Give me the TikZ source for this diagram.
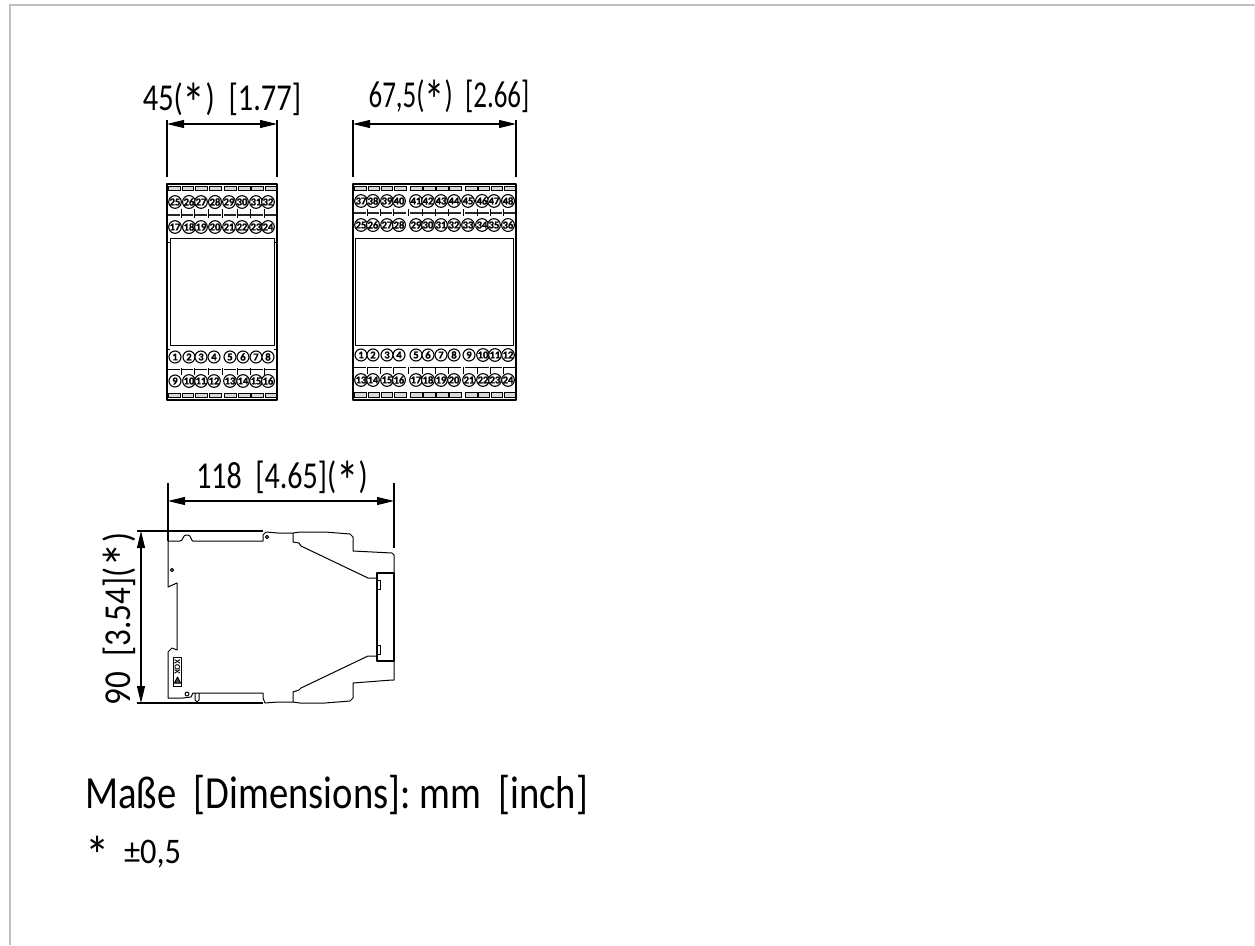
\documentclass[tikz,border=0pt]{standalone}
\usepackage{fontspec}
\setmainfont{Carlito}
\usetikzlibrary{arrows.meta}
\newcommand{\dimstar}{\raisebox{-0.33em}{\scalebox{1.5}{*}}}
\tikzset{
 x=1pt,y=-1pt,
 frameline/.style={draw=black!25,line width=2pt},
 outline/.style={draw=black,line width=1pt,line join=round},
 thin outline/.style={draw=black,line width=0.8pt},
 bar/.style={draw=black,fill=black!15,line width=0.7pt},
 dimline/.style={draw=black,line width=1.1pt},
 dimarrow/.style={dimline,{Triangle[length=17pt,width=8pt]}-{Triangle[length=17pt,width=8pt]}},
 dimtext/.style={inner sep=0pt,font=\fontsize{38}{40}\selectfont},
 term/.style={circle,draw=black,line width=1.1pt,inner sep=0pt,minimum size=12pt,fill=white,font=\fontsize{10.5}{11}\selectfont\bfseries\addfontfeature{FakeBold=1.5}}
}
\begin{document}
\begin{tikzpicture}
\useasboundingbox (0,0) rectangle (1255,945);
\draw[frameline] (10,945) -- (10,5) -- (1255,5);
\draw[draw=black!6,line width=1pt] (1254.5,5) -- (1254.5,945);

% ---------- 45 mm module
\draw[outline,line width=1.3pt] (167,184) rectangle (277,400);
\draw[outline] (170,238) rectangle (274,345);
\draw[outline] (167,242) -- (170,242) (274,242) -- (277,242) (167,349) -- (170,349) (274,349) -- (277,349);
\foreach \a/\b in {168/180,182/193,195/207,209/221,224/236,238/250,251/263,265/276}{
 \draw[bar] (\a,186) rectangle (\b,190);
 \draw[line width=1.6pt,black!85] (\a,215) -- (\b,215);
 \draw[thin outline] (\a,369) -- (\b,369);
 \draw[bar] (\a,393) rectangle (\b,397.5);
}
\foreach \x in {167,181,194,208,222,237,250,264,277}{
 \draw[thin outline] (\x,209) -- (\x,218) (\x,368) -- (\x,375);
}
\foreach \x/\t [count=\i] in {175/25,189/26,201/27,215/28,229/29,242/30,256/31,268/32}
 \node[term] (a\i) at (\x,202) {\t};
\foreach \x/\t [count=\i] in {175/17,189/18,201/19,215/20,229/21,242/22,256/23,268/24}
 \node[term] (b\i) at (\x,227) {\t};
\foreach \x/\t [count=\i] in {175/1,189/2,201/3,214/4,230/5,243/6,256/7,268/8}
 \node[term] (c\i) at (\x,357) {\t};
\foreach \x/\t [count=\i] in {175/9,189/10,201/11,214/12,230/13,243/14,256/15,268/16}
 \node[term] (d\i) at (\x,381) {\t};

% ---------- 67.5 mm module
\draw[outline,line width=1.3pt] (353,184) rectangle (516,400);
\draw[outline] (355,238) rectangle (513,345);
\foreach \a/\b in {354/366,368/379,381/392,394/406,410/422,423/435,436/448,449/461,465/477,478/489,491/502,504/515}{
 \draw[bar] (\a,186) rectangle (\b,190);
 \draw[line width=1.6pt,black!85] (\a,213) -- (\b,213);
 \draw[thin outline] (\a,367) -- (\b,367);
 \draw[bar] (\a,392) rectangle (\b,397.5);
}
\foreach \x in {353,367,380,393,408,422,435,448,463,477,490,503,516}{
 \draw[thin outline] (\x,209) -- (\x,216) (\x,367) -- (\x,374);
}
\foreach \x/\t [count=\i] in {361/37,373/38,387/39,399/40,416/41,428/42,441/43,454/44,468/45,482/46,494/47,508/48}
 \node[term] (e\i) at (\x,201) {\t};
\foreach \x/\t [count=\i] in {361/25,373/26,387/27,399/28,416/29,428/30,441/31,454/32,468/33,482/34,494/35,508/36}
 \node[term] (f\i) at (\x,225) {\t};
\foreach \x/\t [count=\i] in {361/1,373/2,387/3,399/4,416/5,428/6,441/7,454/8,469/9,483/10,495/11,508/12}
 \node[term] (g\i) at (\x,355) {\t};
\foreach \x/\t [count=\i] in {361/13,373/14,387/15,399/16,416/17,428/18,441/19,454/20,469/21,483/22,495/23,508/24}
 \node[term] (h\i) at (\x,380) {\t};

% ---------- dimensions of the front views
\coordinate (d1a) at (167,124); \coordinate (d1b) at (277,124);
\draw[dimline] (167,120) -- (167,177) (277,120) -- (277,177);
\draw[dimarrow] (d1a) -- (d1b);
\node[dimtext] (t1) at (222,103) {\scalebox{.8}[1]{45(\dimstar)\ \ [1.77]}};
\coordinate (d2a) at (353,124); \coordinate (d2b) at (516,124);
\draw[dimline] (353,120) -- (353,177) (516,120) -- (516,177);
\draw[dimarrow] (d2a) -- (d2b);
\node[dimtext] (t2) at (449,100) {\scalebox{.71}[1]{67,5(\dimstar)\ \ [2.66]}};

% ---------- side view
\draw[outline] (168,541) -- (180,541) .. controls (183,541) and (183,535) .. (186,535) -- (188,535)
 .. controls (191,535) and (191,541) .. (193,541) -- (263,541) -- (263,535) -- (266,532) -- (278,533) -- (293,533)
 -- (300,532) -- (325,532) -- (350,534) -- (353,537) -- (353,551) -- (392,553) -- (394,555) -- (394,680)
 -- (392,680) -- (353,683) -- (353,698) -- (350,701) -- (325,703) -- (300,703) -- (293,702) -- (278,702)
 -- (265,703) -- (263,698) -- (263,693) -- (200,693) -- (193,693) -- (191,697) -- (183,698) -- (168,698)
 -- (168,652) -- (172,648) -- (177,650) -- (177,583) -- (168,587) -- (168,541) -- cycle;
\draw[outline] (195,693) -- (195,700) -- (197,702) -- (199,700) -- (199,693);
\draw[outline] (293,533) -- (293,542) -- (299,543) -- (301,546) -- (368,578) -- (377,578);
\draw[outline] (293,702) -- (293,692) -- (299,690) -- (301,688) -- (368,656) -- (377,656);
\draw[outline,line width=1.2pt] (377,573) rectangle (394,661);
\draw[outline] (377,580) -- (380,580) -- (380,589) -- (377,589);
\draw[outline] (377,645) -- (380,645) -- (380,654) -- (377,654);
\draw[outline] (172,570) circle (1.6);
\draw[outline] (267,537) circle (1.6);
\draw[outline] (187,694) circle (2);
\draw[outline] (173.5,657) rectangle (181.5,686);
\node[rotate=-90,inner sep=0pt,font=\fontsize{8.5}{8.5}\selectfont\bfseries] (lab) at (177.5,667) {XOX};
\draw[outline,fill=black!70] (174.5,683) -- (180.5,683) -- (177.5,677) -- cycle;

% ---------- dimensions of the side view
\coordinate (d3a) at (168,501); \coordinate (d3b) at (394,501);
\draw[dimline] (168,483) -- (168,541) (394,483) -- (394,548);
\draw[dimarrow] (d3a) -- (d3b);
\node[dimtext] (t3) at (282,481) {\scalebox{.79}[1]{118\ \ [4.65](\dimstar)}};
\coordinate (d4a) at (141,531); \coordinate (d4b) at (141,703);
\draw[dimline] (137,531) -- (263,531) (137,703) -- (263,703);
\draw[dimarrow] (d4a) -- (d4b);
\node[dimtext,rotate=90] (t4) at (123,619) {\scalebox{.87}[1]{90\ \ [3.54](\dimstar)}};

% ---------- notes
\node[anchor=base west,inner sep=0pt,font=\fontsize{46}{48}\selectfont] (note1) at (85,808) {\scalebox{.84}[1]{Maße\ \ [Dimensions]:\ mm\ \ [inch]}};
\node[anchor=base west,inner sep=0pt,font=\fontsize{36}{38}\selectfont] (note2) at (85,863) {\scalebox{.9}[1]{\dimstar\ \ ±0,5}};
\end{tikzpicture}
\end{document}
